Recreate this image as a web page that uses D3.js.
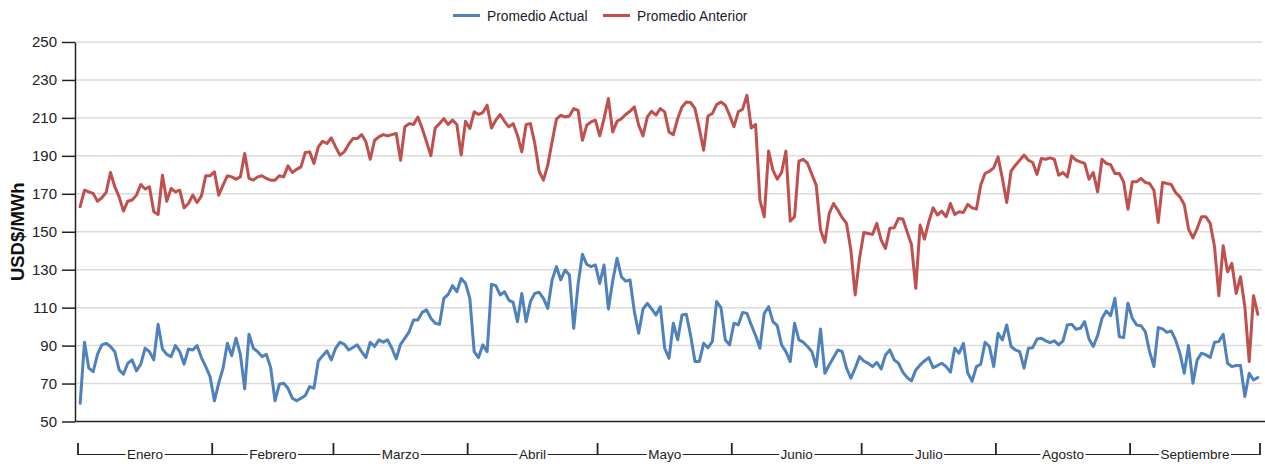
<!DOCTYPE html>
<html><head><meta charset="utf-8">
<script src="https://cdn.jsdelivr.net/npm/d3@7"></script>
<style>body{margin:0;background:#fff;} svg{display:block;}</style>
</head><body><svg id="c" width="1265" height="464"></svg>
<script>
const months = ["Enero","Febrero","Marzo","Abril","Mayo","Junio","Julio","Agosto","Septiembre"];
const monthDays = [31,28,31,30,31,30,31,31,30];
const yTicks = [50,70,90,110,130,150,170,190,210,230,250];
const seriesNames = ["Promedio Actual","Promedio Anterior"];
const seriesColors = ["#4f81bd","#c0504d"];
const yTitle = "USD$/MWh";

const actual = [
59.6,91.8,78.1,76.3,85.4,90.4,91.2,89.5,86.8,77.2,74.9,80.7,82.5,76.7,80.2,88.6,86.8,82.5,101.2,88.2,85.4,84.2,90,86.8,80.2,88.2,87.7,90,83.7,78.9,73.7,
60.9,70.2,78.1,91.2,84.7,93.9,85.4,67.2,96,88.6,86.8,84.2,85.4,78.4,60.9,69.6,70.2,67.5,62.3,60.9,62.3,63.7,68.4,67.5,81.9,84.7,87.2,82.5,
88.6,91.8,90.7,87.7,89,90.4,86.8,83.7,91.8,89.5,93,91.8,93,88.6,83,90.7,93.9,97.4,103.5,103.5,107.5,108.8,104.4,101.8,101.2,114.9,117,121.6,118.4,125.4,122.8,
114.9,86.8,83.7,90.4,86.8,122.3,121.6,116.7,118.4,114,112.8,102.6,117.5,102.6,113.2,117.5,118.1,114.9,109.6,124.6,131.6,124.6,129.8,127.2,99.1,122.3,138.1,132.8,131.6,132.5,
122.8,132.5,109.3,124,136,126.3,124,124.6,107.9,96.5,109.3,112.3,109.3,106.1,110.5,88.6,83.3,101.8,93,106.1,106.5,95.3,81.6,81.6,91.2,88.9,92.1,113.2,110,93,90.4,
101.8,100.9,107.5,107,100.9,95.3,88.6,107,110.5,102.6,100.5,90.4,86.8,81.6,101.8,93,91.8,89.5,86.8,78.9,98.8,75.4,79.8,83.7,87.7,86.8,78.1,72.8,78.1,84.2,
81.9,80.7,78.9,81.2,77.7,85.1,87.7,82.5,80.7,76,73.2,71.4,77.2,79.8,81.9,83.7,78.4,79.5,80.7,78.9,76,88.6,86,91.2,75.6,71.2,78.9,80.2,91.8,89.5,78.9,
96.5,93,100.9,89.5,87.7,86.8,78.1,88.6,88.9,93.5,93.9,92.5,91.6,92.5,90.4,92.5,100.9,101.2,98.6,99.1,102.6,93.5,89.5,95.3,104.4,108.2,105.8,114.9,94.7,94.2,112.3,
104.4,100.9,100.5,97.4,86.8,78.9,99.5,98.8,97,97.7,93,86,75.4,90,70.2,82.5,86,85.1,83.7,91.8,92.1,96,80.7,78.9,79.5,79.5,63.2,75.4,71.9,73.2
];

const previous = [
163.2,171.9,171,170.2,166.1,167.9,170.7,181.2,173.7,168.4,160.9,166.1,166.7,169.3,174.9,172.5,173.7,160.5,159.1,179.8,166.1,172.8,171,171.9,162.6,164.9,169.3,165.4,168.8,179.5,179.5,
181.6,169.3,174.6,179.5,178.9,177.7,178.9,191.2,178.1,177.2,178.9,179.5,178.1,177.2,177.2,179.5,178.9,184.7,181.2,182.9,184.2,191.8,192.1,186,194.7,197.7,196.5,199.5,
194.7,190.4,192.1,196,199.1,199.1,201.2,197.4,188.2,198.2,200,201.2,200.5,201.2,201.8,187.7,205.3,207,206.5,210.5,204.4,197.4,190,204.7,207,209.6,206.5,208.8,206.5,190.4,208.2,
204.4,213.2,211.8,212.8,216.7,204.7,208.8,211.8,208.2,205.3,207,200.9,192.1,206.5,207,196.5,181.9,177.2,185.1,197.4,209.3,211.4,210.5,211,214.9,214,198.2,206.1,207.9,208.8,
200.5,209.6,220.2,202.6,208.2,209.6,211.8,213.5,215.8,206.1,200.5,210.5,213.5,211.5,214.9,213.2,202.6,201.2,209.6,215.8,218.4,218.1,214.9,204.4,193,211,212.3,217,218.4,216.7,211.4,
205.3,213.2,214.6,221.9,204.7,206.5,166.7,157.9,192.5,182.5,177.7,181.2,192.5,155.6,157.9,187.2,188.2,186,180.2,174.6,150.9,144.4,159.6,164.9,161.4,157.4,154.4,140.4,116.7,136,
149.6,149.1,148.6,154.4,145.6,141.2,151.8,152.1,157,156.7,150,143.3,120.2,153.5,146.1,155.3,162.6,158.8,160.9,157.9,164.9,159.1,160.5,160.2,164.4,162.6,161.9,174.6,180.7,181.9,183.7,
189.5,178.1,165.4,181.9,185.1,187.7,190.4,187.7,186.5,180.2,188.6,188.2,188.9,188.2,179.8,181.2,178.9,190,187.7,186.8,186,177.7,181.2,171,188.2,186,185.4,180.7,180.7,176.3,161.9,
176.3,176.3,178.1,176,175.4,171.9,154.9,176,175.4,174.9,170.7,168.4,164.4,151.4,146.8,151.8,157.9,157.9,154.4,142.1,116.3,142.6,128.9,133.3,117.5,126.3,110.5,81.6,116.3,106.5
];

const svg = d3.select("#c");
const nDays = d3.sum(monthDays);
const plotLeft = 75, dataLeft = 78, dataRight = 1260, gridRight = 1262;
const x = d3.scalePoint().domain(d3.range(nDays)).range([dataLeft, dataRight]).padding(0.5);
const xEdge = d3.scaleLinear().domain([0, nDays]).range([dataLeft, dataRight]);
const y = d3.scaleLinear().domain([50, 250]).range([421.5, 42]);
const FONT = "'Liberation Sans', Arial, sans-serif";

// gridlines
svg.append("g").selectAll("line").data(yTicks.filter(t => t > 50)).join("line")
  .attr("x1", plotLeft).attr("x2", gridRight)
  .attr("y1", d => y(d)).attr("y2", d => y(d))
  .attr("stroke", "#dcdcdc").attr("stroke-width", 1.5);

// y axis
const gy = svg.append("g").attr("transform", `translate(${plotLeft},0)`)
  .call(d3.axisLeft(y).tickValues(yTicks).tickSize(13).tickSizeOuter(0).tickPadding(5));
gy.select(".domain").attr("stroke", "#222").attr("stroke-width", 1.5);
gy.selectAll(".tick line").attr("stroke", "#222").attr("stroke-width", 1.5);
gy.selectAll(".tick text").attr("fill", "#222").style("font-family", FONT).style("font-size", "15px");

// x axis baseline
svg.append("line").attr("x1", plotLeft).attr("x2", 1265).attr("y1", y(50)).attr("y2", y(50))
  .attr("stroke", "#222").attr("stroke-width", 1.5);

// y title
svg.append("text").attr("transform", `translate(17,${(y(50)+y(250))/2}) rotate(-90)`)
  .attr("text-anchor", "middle").attr("dominant-baseline", "central")
  .style("font-family", FONT).style("font-size", "18.5px").style("font-weight", "bold")
  .attr("fill", "#111").text(yTitle);

// series lines
const line = d3.line().x((d, i) => x(i)).y(d => y(d)).curve(d3.curveLinear);
[previous, actual].forEach((s, k) => {
  svg.append("path").datum(s).attr("d", line).attr("fill", "none")
    .attr("stroke", k === 0 ? seriesColors[1] : seriesColors[0])
    .attr("stroke-width", 3).attr("stroke-linejoin", "round").attr("stroke-linecap", "round");
});

// month bracket axis
const cum = [0, ...Array.from(d3.cumsum(monthDays))];
const gm = svg.append("g");
const bracketY = 454.5;
gm.append("line").attr("x1", xEdge(0)).attr("x2", xEdge(nDays)).attr("y1", bracketY).attr("y2", bracketY)
  .attr("stroke", "#222").attr("stroke-width", 1.2);
gm.selectAll("line.b").data(cum).join("line").attr("class", "b")
  .attr("x1", d => xEdge(d)).attr("x2", d => xEdge(d)).attr("y1", 443).attr("y2", bracketY + 0.6)
  .attr("stroke", "#222").attr("stroke-width", 1.8);
months.forEach((m, i) => {
  const cx = (xEdge(cum[i]) + xEdge(cum[i + 1])) / 2;
  const t = gm.append("text").attr("x", cx).attr("y", 459).attr("text-anchor", "middle")
    .style("font-family", FONT).style("font-size", "13.5px")
    .attr("fill", "#222").text(m);
  const w = t.node().getComputedTextLength();
  gm.insert("rect", () => t.node()).attr("x", cx - w / 2 - 1.5).attr("y", 449).attr("width", w + 3).attr("height", 12).attr("fill", "#fff");
});

// legend
const legend = [{name: seriesNames[0], color: seriesColors[0], x: 453},
                {name: seriesNames[1], color: seriesColors[1], x: 603}];
const gl = svg.append("g");
legend.forEach(l => {
  gl.append("line").attr("x1", l.x).attr("x2", l.x + 27).attr("y1", 15.5).attr("y2", 15.5)
    .attr("stroke", l.color).attr("stroke-width", 3);
  gl.append("text").attr("x", l.x + 34).attr("y", 20.5)
    .style("font-family", FONT).style("font-size", "13.8px")
    .attr("fill", "#1a1a2e").text(l.name);
});
</script></body></html>
